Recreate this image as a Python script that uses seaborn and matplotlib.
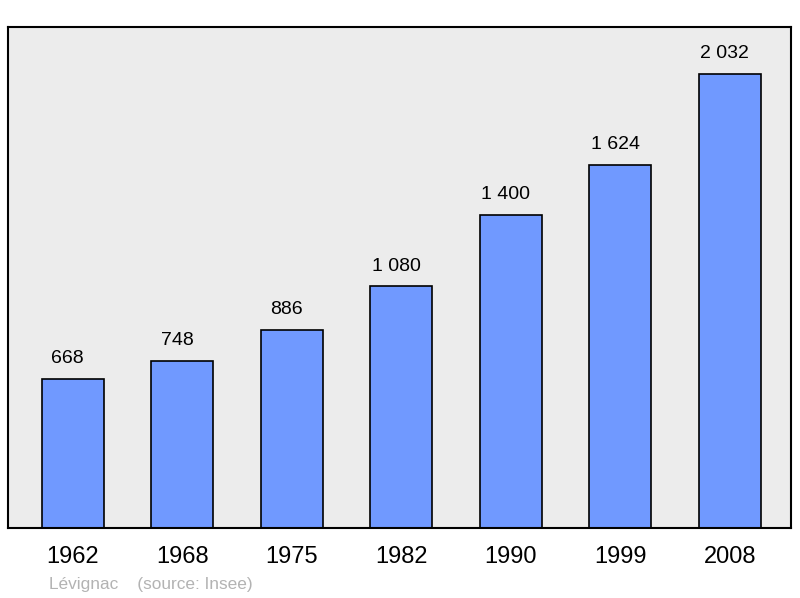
import pandas as pd
import seaborn as sns
import matplotlib.pyplot as plt

# population data
years = ['1962', '1968', '1975', '1982', '1990', '1999', '2008']
population = [668, 748, 886, 1080, 1400, 1624, 2032]
town = 'Lévignac'
source = '(source: Insee)'

df = pd.DataFrame({'year': years, 'pop': population})

sns.set_style('white')
plt.rcParams['font.family'] = ['Liberation Sans', 'DejaVu Sans']
plt.rcParams['text.color'] = 'black'
plt.rcParams['xtick.color'] = 'black'

fig = plt.figure(figsize=(8, 5.98), dpi=100)
ax = fig.add_axes([8 / 800, 1 - 528 / 598, (791 - 8) / 800, (528 - 27) / 598])
ax.set_facecolor('#ececec')

sns.barplot(data=df, x='year', y='pop', color='#7099ff', saturation=1,
            width=0.567, edgecolor='black', linewidth=1.2, ax=ax)

ax.set_xlim(-0.59, 6.56)
ax.set_ylim(0, 2240)
ax.set_yticks([])
ax.set_xlabel('')
ax.set_ylabel('')
ax.tick_params(axis='x', length=0, labelsize=17, pad=13, labelcolor='black')
for s in ax.spines.values():
    s.set_color('black')
    s.set_linewidth(1.5)

# value labels above bars (a bit left of centre, like the original)
for i, v in enumerate(population):
    ax.text(i - 0.045, v + 52, f"{v:,}".replace(',', ' '), ha='center', va='bottom',
            fontsize=14, color='black')

fig.text(49 / 800, 1 - 584 / 598, town + '    ' + source, color='#b3b3b3',
         fontsize=12.4, ha='left', va='center')

plt.savefig('out.png', dpi=100)
